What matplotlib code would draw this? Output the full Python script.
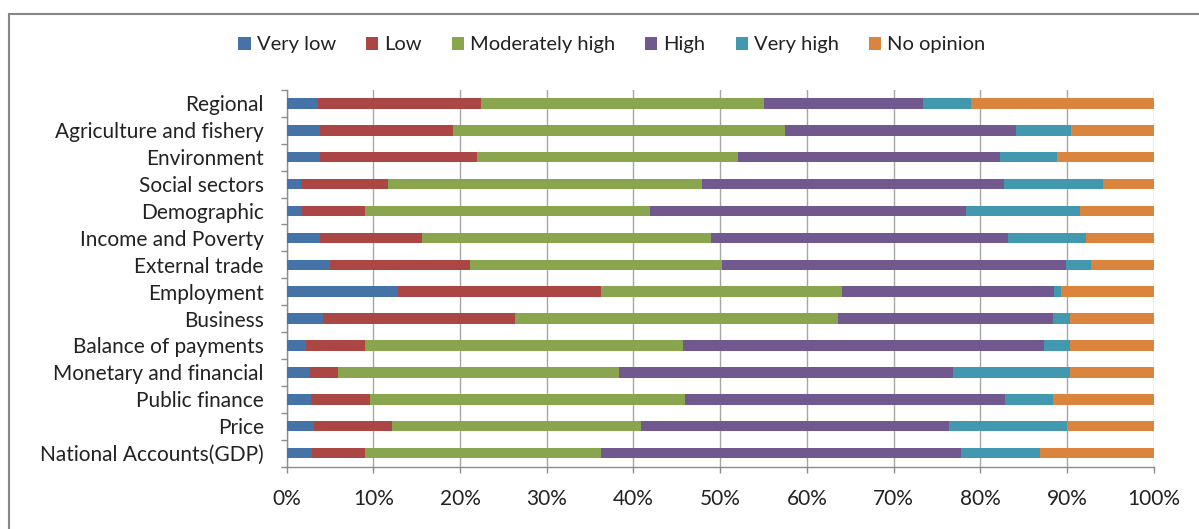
import numpy as np
import matplotlib
matplotlib.use('Agg')
import matplotlib.pyplot as plt
from matplotlib.patches import Rectangle

plt.rcParams['font.family'] = ['Lato', 'DejaVu Sans']

# categories from top to bottom, values in percent
categories = ['Regional', 'Agriculture and fishery', 'Environment', 'Social sectors',
              'Demographic', 'Income and Poverty', 'External trade', 'Employment',
              'Business', 'Balance of payments', 'Monetary and financial',
              'Public finance', 'Price', 'National Accounts(GDP)']

series_names = ['Very low', 'Low', 'Moderately high', 'High', 'Very high', 'No opinion']

very_low = [3.6, 3.8, 3.8, 1.7, 1.8, 3.8, 5.0, 12.8, 4.2, 2.2, 2.7, 2.8, 3.2, 2.9]
low = [18.8, 15.4, 18.2, 10.0, 7.2, 11.8, 16.1, 23.4, 22.1, 6.8, 3.2, 6.8, 9.0, 6.1]
moderately_high = [32.7, 38.2, 30.0, 36.2, 32.9, 33.3, 29.1, 27.9, 37.3, 36.8, 32.4, 36.3, 28.7, 27.3]
high = [18.3, 26.6, 30.3, 34.8, 36.5, 34.3, 39.7, 24.4, 24.8, 41.6, 38.6, 37.0, 35.5, 41.6]
very_high = [5.5, 6.4, 6.5, 11.5, 13.1, 9.0, 2.9, 0.8, 1.9, 3.0, 13.4, 5.5, 13.6, 9.1]
no_opinion = [21.1, 9.5, 11.2, 5.8, 8.5, 7.8, 7.2, 10.7, 9.7, 9.7, 9.7, 11.6, 10.0, 13.1]

colors = ['#4572A7', '#AA4643', '#89A54E', '#71588F', '#4198AF', '#DB843D']

if __name__ == '__main__':
    data = np.array([very_low, low, moderately_high, high, very_high, no_opinion])
    # normalise each row to 100 %
    data = data / data.sum(axis=0) * 100.0

    fig = plt.figure(figsize=(11.99, 5.29), dpi=100)
    ax = fig.add_axes([0.2391, 0.1181, 0.9622 - 0.2391, 0.8299 - 0.1181])

    y = np.arange(len(categories))
    left = np.zeros(len(categories))
    for name, vals, col in zip(series_names, data, colors):
        ax.barh(y, vals, left=left, height=0.39, color=col, label=name, zorder=3)
        left += vals

    ax.set_xlim(0, 100)
    ax.set_ylim(len(categories) - 0.5, -0.5)
    ax.set_xticks(np.arange(0, 101, 10))
    ax.set_xticklabels(['%d%%' % v for v in range(0, 101, 10)], fontsize=15, color='#222222')
    ax.set_yticks(y)
    ax.set_yticklabels(categories, fontsize=15, color='#222222')
    ax.set_yticks(np.arange(-0.5, len(categories), 1), minor=True)

    ax.tick_params(axis='y', which='major', length=0, pad=16.5)
    ax.tick_params(axis='y', which='minor', length=4, color='#8c8c8c', width=1)
    ax.tick_params(axis='x', which='major', length=4.5, color='#8c8c8c', width=1, pad=12)

    ax.grid(axis='x', color='#a6a6a6', linewidth=1.0, zorder=0)
    for s in ['top', 'right']:
        ax.spines[s].set_visible(False)
    for s in ['left', 'bottom']:
        ax.spines[s].set_color('#8c8c8c')
        ax.spines[s].set_linewidth(1.0)

    fig.legend(loc='center', bbox_to_anchor=(0.5104, 0.915), ncol=6, frameon=False,
               fontsize=14.5, handlelength=0.6, handleheight=0.6, handletextpad=0.3,
               columnspacing=1.5, labelcolor='#222222')

    fig.patches.append(Rectangle((9 / 1199, -0.1), 1.2, 1.1 - 14 / 529,
                                 transform=fig.transFigure, fill=False,
                                 edgecolor='#868686', linewidth=1.5))

    fig.savefig('out.png', dpi=100)
